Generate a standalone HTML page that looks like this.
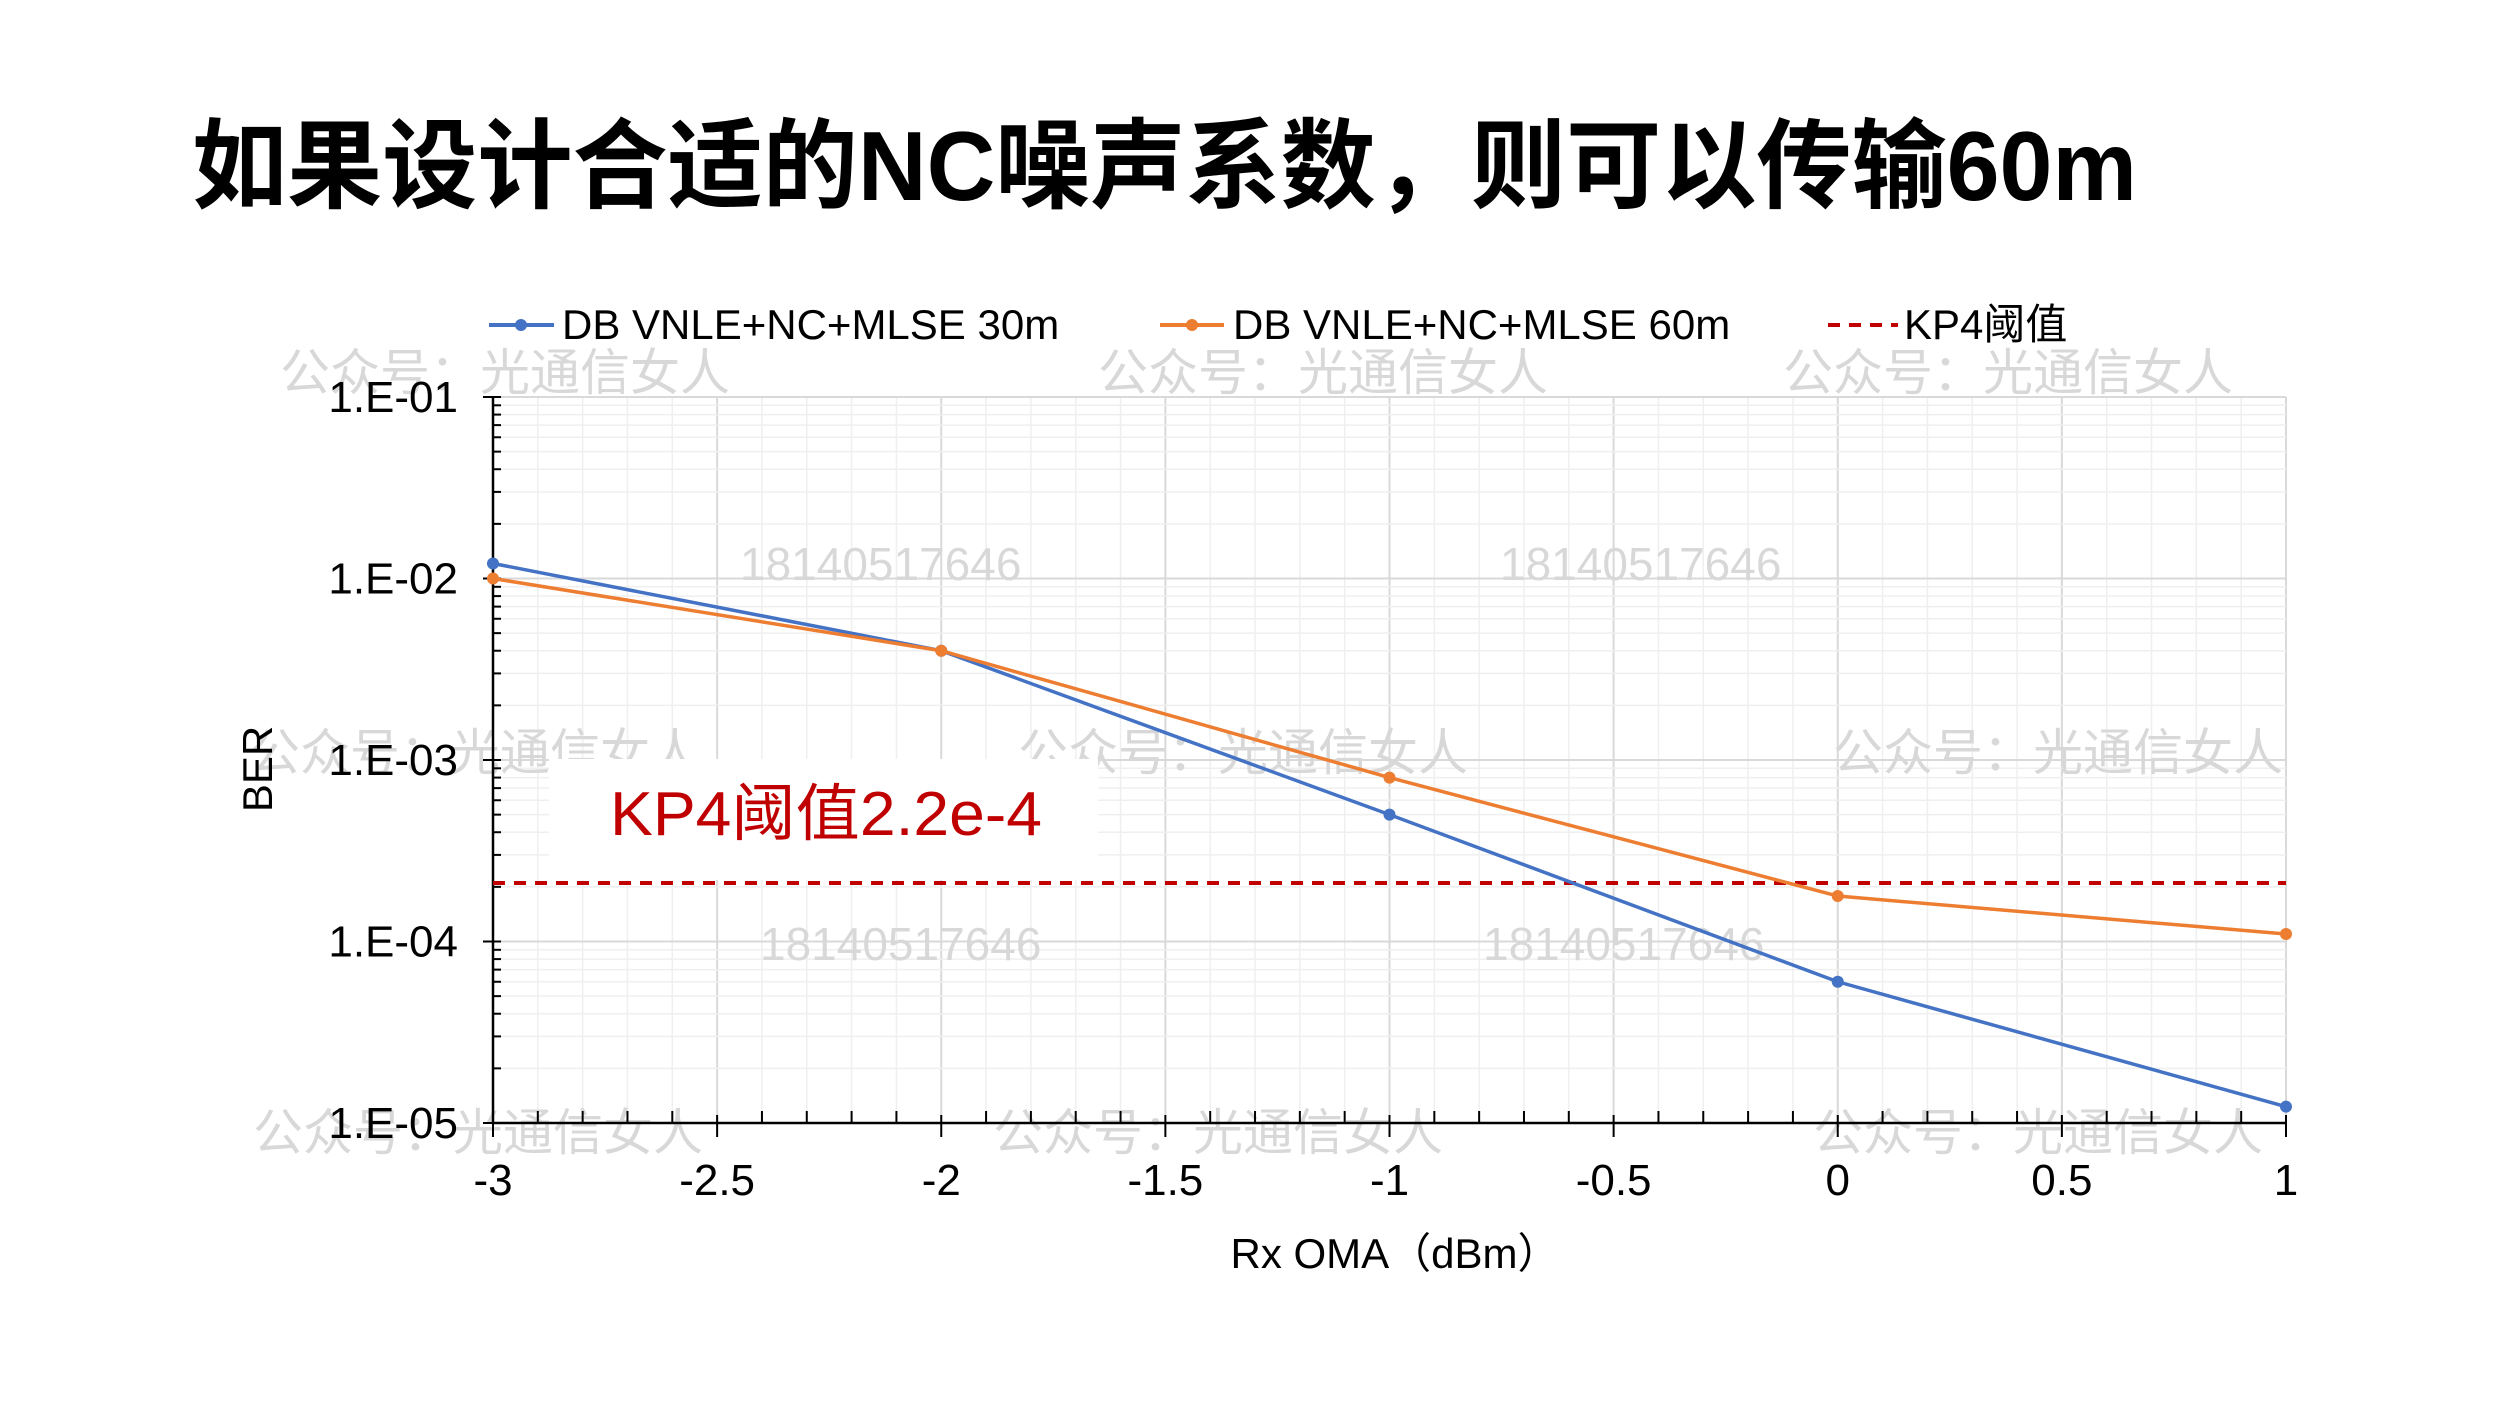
<!DOCTYPE html>
<html><head><meta charset="utf-8"><style>
html,body{margin:0;padding:0;background:#fff}
svg{display:block}
text{font-family:"Liberation Sans","Noto Sans CJK SC",sans-serif}
</style></head><body>
<svg id="s" width="2500" height="1406" xmlns="http://www.w3.org/2000/svg">
<rect width="2500" height="1406" fill="#fff"/>
<text x="192" y="200" font-size="98" font-weight="bold" textLength="1945" lengthAdjust="spacingAndGlyphs" fill="#000">如果设计合适的NC噪声系数，则可以传输60m</text>
<g id="grid"></g>
<g id="wm" fill="#d8d8d8" font-family="Liberation Serif,Noto Serif CJK SC,serif" font-size="50">
<text x="280" y="390">公众号：光通信女人</text>
<text x="1098" y="390">公众号：光通信女人</text>
<text x="1783" y="390">公众号：光通信女人</text>
<text x="740" y="580" font-size="46">18140517646</text>
<text x="1500" y="580" font-size="46">18140517646</text>
<text x="250" y="770">公众号：光通信女人</text>
<text x="1018" y="770">公众号：光通信女人</text>
<text x="1833" y="770">公众号：光通信女人</text>
<text x="760" y="960" font-size="46">18140517646</text>
<text x="1483" y="960" font-size="46">18140517646</text>
<text x="253" y="1150">公众号：光通信女人</text>
<text x="993" y="1150">公众号：光通信女人</text>
<text x="1813" y="1150">公众号：光通信女人</text>
</g>
<rect x="549" y="759" width="549" height="121" fill="#fff"/>
<text x="610" y="835" font-size="62" textLength="432" lengthAdjust="spacingAndGlyphs" fill="#c00000">KP4阈值2.2e-4</text>
<g id="axes"></g>
<g id="series"></g>
<g font-size="42" fill="#000">
<line x1="489" y1="325" x2="554" y2="325" stroke="#4472c4" stroke-width="4"/><circle cx="521" cy="325" r="6" fill="#4472c4"/>
<text x="562" y="339">DB VNLE+NC+MLSE 30m</text>
<line x1="1160" y1="325" x2="1224" y2="325" stroke="#ed7d31" stroke-width="4"/><circle cx="1192" cy="325" r="6" fill="#ed7d31"/>
<text x="1233" y="339">DB VNLE+NC+MLSE 60m</text>
<line x1="1828" y1="325" x2="1898" y2="325" stroke="#c00000" stroke-width="4" stroke-dasharray="12,9"/>
<text x="1904" y="339">KP4阈值</text>
<text x="1395" y="1268" text-anchor="middle">Rx OMA（dBm）</text>
<text transform="translate(272,769) rotate(-90)" text-anchor="middle">BER</text>
</g>
</svg>
<script>
var NS="http://www.w3.org/2000/svg";
function el(p,t,a,tx){var e=document.createElementNS(NS,t);for(var k in a)e.setAttribute(k,a[k]);if(tx!=null)e.textContent=tx;document.getElementById(p).appendChild(e);return e;}
var L=493,R=2286,T=397,D=181.5;
function X(v){return L+(v+3)*448.25;}
function Y(v){return T+(-1-Math.log10(v))*D;}
var B=Y(1e-5);
for(var i=-30;i<=10;i++){var x=X(i/10);var maj=(i%5==0);el("grid","line",{x1:x,y1:T,x2:x,y2:B,stroke:maj?"#d9d9d9":"#efefef","stroke-width":maj?2:1.5});}
for(var d=-5;d<-1;d++){for(var m=1;m<10;m++){var y=Y(m*Math.pow(10,d));el("grid","line",{x1:L,y1:y,x2:R,y2:y,stroke:m==1?"#d9d9d9":"#efefef","stroke-width":m==1?2:1.5});}}
el("grid","line",{x1:L,y1:T,x2:R,y2:T,stroke:"#d9d9d9","stroke-width":2});
el("axes","line",{x1:L,y1:T,x2:L,y2:B,stroke:"#000","stroke-width":2.5});
el("axes","line",{x1:L,y1:B,x2:R,y2:B,stroke:"#000","stroke-width":2.5});
for(var d=-5;d<=-1;d++){var y=Y(Math.pow(10,d));el("axes","line",{x1:L-10,y1:y,x2:L+8,y2:y,stroke:"#000","stroke-width":2});
el("axes","text",{x:458,y:y+15,"text-anchor":"end","font-size":44},"1.E-0"+(-d));
if(d<-1)for(var m=2;m<10;m++){var yy=Y(m*Math.pow(10,d));el("axes","line",{x1:L,y1:yy,x2:L+8,y2:yy,stroke:"#000","stroke-width":2});}}
var lab=["-3","-2.5","-2","-1.5","-1","-0.5","0","0.5","1"];
for(var i=-30;i<=10;i++){var x=X(i/10);if(i%5==0){el("axes","line",{x1:x,y1:B-8,x2:x,y2:B+14,stroke:"#000","stroke-width":2});el("axes","text",{x:x,y:1195,"text-anchor":"middle","font-size":44},lab[(i+30)/5]);}else el("axes","line",{x1:x,y1:B-12,x2:x,y2:B,stroke:"#000","stroke-width":2});}
el("series","line",{x1:L,y1:Y(2.1e-4),x2:R,y2:Y(2.1e-4),stroke:"#c00000","stroke-width":4,"stroke-dasharray":"12,9"});
var xs=[-3,-2,-1,0,1];
var s1=[1.21e-2,4e-3,5e-4,6e-5,1.23e-5],s2=[1e-2,4e-3,8e-4,1.78e-4,1.1e-4];
[[s1,"#4472c4"],[s2,"#ed7d31"]].forEach(function(s){var p=xs.map(function(x,i){return X(x)+","+Y(s[0][i]);}).join(" ");
el("series","polyline",{points:p,fill:"none",stroke:s[1],"stroke-width":3.5});
xs.forEach(function(x,i){el("series","circle",{cx:X(x),cy:Y(s[0][i]),r:6,fill:s[1]});});});
</script>
</body></html>
